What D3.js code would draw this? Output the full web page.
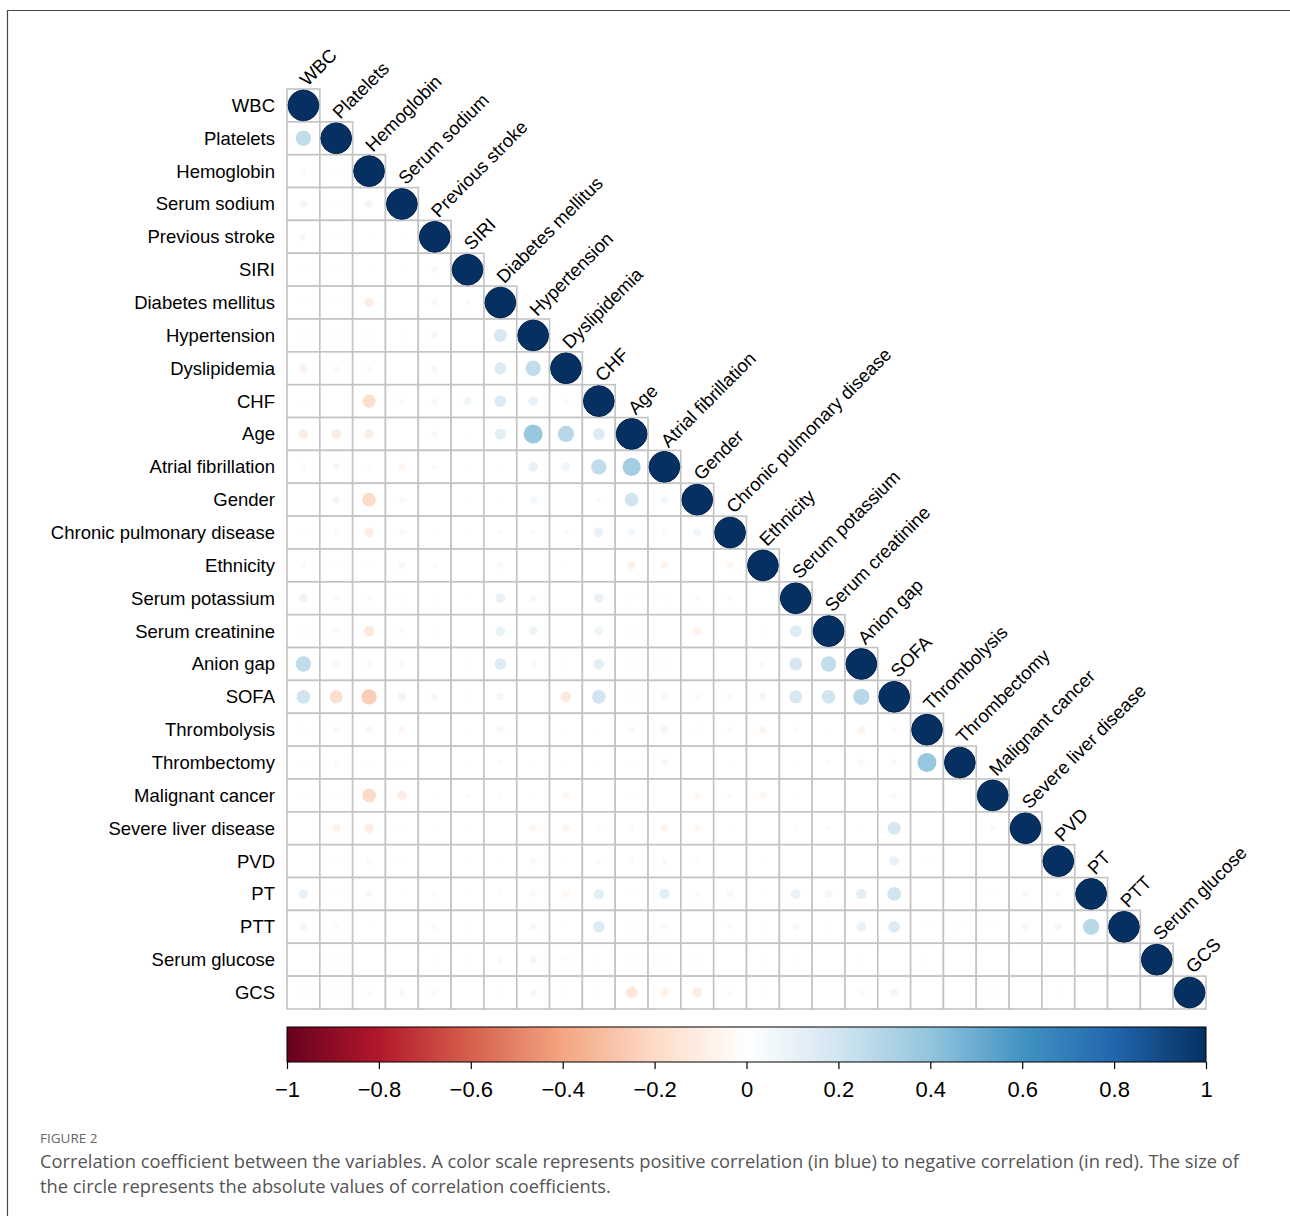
<!DOCTYPE html>
<html>
<head>
<meta charset="utf-8">
<script src="https://cdn.jsdelivr.net/npm/d3@7"></script>
<style>
  body { margin: 0; background: #fff; }
</style>
</head>
<body>
<script>
'use strict';

// variable order, top row to bottom row (and left to right)
const variables = ["WBC", "Platelets", "Hemoglobin", "Serum sodium", "Previous stroke", "SIRI",
  "Diabetes mellitus", "Hypertension", "Dyslipidemia", "CHF", "Age", "Atrial fibrillation",
  "Gender", "Chronic pulmonary disease", "Ethnicity", "Serum potassium", "Serum creatinine",
  "Anion gap", "SOFA", "Thrombolysis", "Thrombectomy", "Malignant cancer", "Severe liver disease",
  "PVD", "PT", "PTT", "Serum glucose", "GCS"];

// lower triangle, row i holds correlations with columns 0..i-1 (diagonal = 1)
const lowerTriangle = [
  [],
  [0.25],
  [0.03, -0.02],
  [0.06, -0.02, 0.06],
  [-0.05, 0.01, 0.01, -0.01],
  [0.01, -0.02, 0.01, 0.01, 0.05],
  [0.01, 0.01, -0.1, 0, 0.04, 0.03],
  [-0.02, -0.02, -0.02, 0.01, 0.05, 0, 0.18],
  [-0.08, -0.04, 0.03, 0, 0.05, 0, 0.15, 0.25],
  [0.01, 0, -0.18, -0.03, 0.04, 0.07, 0.15, 0.1, 0.03],
  [-0.1, -0.1, -0.1, 0, 0.04, 0.01, 0.13, 0.38, 0.28, 0.15],
  [-0.04, -0.05, -0.03, -0.05, 0.03, 0.01, 0.01, 0.1, 0.07, 0.25, 0.35],
  [0, 0.06, -0.2, 0.04, 0, -0.02, 0.02, 0.06, 0, 0.03, 0.2, 0.06],
  [0.02, 0.03, -0.1, -0.04, -0.02, -0.02, 0.03, 0.03, 0.03, 0.1, 0.06, 0.03, 0.07],
  [0.03, 0.01, -0.02, 0.05, 0.03, 0, 0.05, 0, -0.02, 0, -0.07, -0.06, 0, -0.05],
  [0.08, 0.03, -0.03, -0.02, 0.02, 0.01, 0.1, 0.05, 0, 0.1, 0.02, 0.02, -0.03, 0.03, 0],
  [0.02, -0.04, -0.12, -0.03, -0.02, 0, 0.1, 0.08, 0, 0.08, -0.03, 0, -0.07, 0, 0.02, 0.15],
  [0.25, 0.05, 0.04, 0.05, 0, 0.01, 0.15, 0.04, -0.02, 0.12, -0.03, 0.01, 0, 0, 0.04, 0.18, 0.25],
  [0.2, -0.18, -0.25, 0.07, -0.05, 0.02, 0.06, 0, -0.12, 0.2, -0.03, 0.05, -0.04, 0.04, 0.06, 0.18, 0.2, 0.28],
  [-0.02, 0.04, 0.05, -0.05, 0, -0.01, -0.05, 0, 0.01, 0.01, 0.04, 0.06, 0.02, -0.03, -0.06, -0.03, 0.01, -0.06, -0.03],
  [-0.02, 0.03, 0.02, -0.02, 0, -0.02, -0.03, 0.01, 0.01, 0.01, -0.01, 0.05, 0, 0.01, 0, 0.01, -0.03, -0.04, -0.04, 0.38],
  [0.02, 0.01, -0.2, -0.1, -0.02, -0.03, -0.02, -0.02, -0.05, 0, 0.01, 0, -0.05, 0.03, -0.05, 0.01, 0, 0, -0.04, 0, 0],
  [0, -0.07, -0.1, -0.02, 0.01, -0.02, 0, -0.05, -0.06, -0.03, -0.04, -0.06, -0.05, 0.01, 0, 0.02, 0.03, 0.01, 0.18, 0, 0, 0.04],
  [0, -0.02, -0.04, 0.02, 0, 0.02, -0.01, 0.04, 0.02, 0.03, 0.03, 0.04, -0.03, 0, -0.02, 0, 0, 0, 0.1, -0.01, 0, 0, 0],
  [0.1, -0.01, -0.05, 0.01, -0.03, 0.01, 0.02, -0.04, -0.05, 0.12, -0.01, 0.12, -0.03, 0.05, 0.01, 0.1, 0.06, 0.12, 0.2, 0, 0, -0.01, 0.05, 0.04],
  [0.06, 0.03, 0.01, 0, -0.04, 0.02, 0, -0.05, 0.01, 0.15, -0.02, 0.04, 0, 0.03, -0.02, 0.05, 0.02, 0.1, 0.15, -0.01, -0.01, 0.01, 0.05, 0.06, 0.28],
  [0, -0.02, 0, 0, 0.01, 0.01, 0.04, -0.06, -0.03, 0.01, -0.02, -0.03, 0.02, 0, -0.02, 0.01, 0, 0.01, 0, 0.01, 0, 0, 0, 0, 0, 0],
  [-0.02, 0.01, 0.03, -0.05, -0.04, 0, 0.01, -0.05, -0.02, 0.01, -0.14, -0.08, -0.1, 0.03, -0.02, 0, 0, -0.04, -0.06, 0, 0, -0.01, 0, 0.02, 0, 0, 0]
];

const legendTicks = [-1, -0.8, -0.6, -0.4, -0.2, 0, 0.2, 0.4, 0.6, 0.8, 1];
const palette = ["#67001F", "#B2182B", "#D6604D", "#F4A582", "#FDDBC7", "#FFFFFF",
  "#D1E5F0", "#92C5DE", "#4393C3", "#2166AC", "#053061"];

const figureLabel = "FIGURE 2";
const captionLines = [
  "Correlation coefficient between the variables. A color scale represents positive correlation (in blue) to negative correlation (in red). The size of",
  "the circle represents the absolute values of correlation coefficients."
];

const labelFont = "'Liberation Sans', Arial, Helvetica, sans-serif";

let svg = d3.select('body')
  .append('svg')
  .attr('width', 1290)
  .attr('height', 1216)
  .style('display', 'block');

// frame of the figure panel (top + left edges visible)
svg.append('path')
  .attr('d', 'M7.5,1216V10.5H1290')
  .attr('fill', 'none')
  .attr('stroke', '#444')
  .attr('stroke-width', 1.2);

let xScale = d3.scaleBand().domain(variables).range([287, 1206]);
let yScale = d3.scaleBand().domain(variables).range([89, 1009]);
let cell = xScale.bandwidth();

let colorScale = d3.scaleLinear()
  .domain(legendTicks)
  .range(palette);

let sizeScale = d3.scaleSqrt()
  .domain([0, 1])
  .range([0, cell * 0.468]);

let cells = [];
lowerTriangle.forEach((row, i) => {
  row.forEach((v, j) => cells.push({ row: variables[i], col: variables[j], value: v }));
  cells.push({ row: variables[i], col: variables[i], value: 1 });
});

let plot = svg.append('g');

plot.selectAll('.cell')
  .data(cells)
  .enter()
  .append('rect')
    .attr('class', 'cell')
    .attr('x', d => xScale(d.col))
    .attr('y', d => yScale(d.row))
    .attr('width', cell)
    .attr('height', cell)
    .attr('fill', '#fff')
    .attr('stroke', '#c3c3c3')
    .attr('stroke-width', 1.6);

plot.selectAll('.dot')
  .data(cells)
  .enter()
  .append('circle')
    .attr('class', 'dot')
    .attr('cx', d => xScale(d.col) + cell / 2)
    .attr('cy', d => yScale(d.row) + cell / 2)
    .attr('r', d => sizeScale(Math.abs(d.value)))
    .attr('fill', d => colorScale(d.value))
    .attr('stroke', d => d.value === 1 ? '#02254d' : 'none')
    .attr('stroke-width', 1);

// row labels
svg.append('g')
  .selectAll('text')
  .data(variables)
  .enter()
  .append('text')
    .attr('x', 275)
    .attr('y', d => yScale(d) + cell / 2)
    .attr('dy', '0.35em')
    .attr('text-anchor', 'end')
    .style('font-family', labelFont)
    .style('font-size', '18.5px')
    .attr('fill', '#000')
    .text(d => d);

// diagonal column labels
svg.append('g')
  .selectAll('text')
  .data(variables)
  .enter()
  .append('text')
    .attr('transform', d => 'translate(' + (xScale(d) + cell / 2 + 4) + ',' + (yScale(d) - 2) + ')rotate(-45)')
    .style('font-family', labelFont)
    .style('font-size', '18.5px')
    .attr('fill', '#000')
    .text(d => d);

// colour legend
let legendScale = d3.scaleLinear().domain([-1, 1]).range([287, 1206]);
let defs = svg.append('defs');
let grad = defs.append('linearGradient')
  .attr('id', 'corrGrad')
  .attr('x1', '0%').attr('x2', '100%')
  .attr('y1', '0%').attr('y2', '0%');
grad.selectAll('stop')
  .data(legendTicks)
  .enter()
  .append('stop')
    .attr('offset', d => ((d + 1) / 2 * 100) + '%')
    .attr('stop-color', d => colorScale(d));

svg.append('rect')
  .attr('x', legendScale(-1))
  .attr('y', 1027)
  .attr('width', legendScale(1) - legendScale(-1))
  .attr('height', 35)
  .attr('fill', 'url(#corrGrad)')
  .attr('stroke', '#000')
  .attr('stroke-width', 1);

let legendAxis = d3.axisBottom(legendScale)
  .tickValues(legendTicks)
  .tickSize(7)
  .tickPadding(12)
  .tickFormat(d3.format('~g'));

let axisG = svg.append('g')
  .attr('transform', 'translate(0,1062)')
  .call(legendAxis);
axisG.select('.domain').remove();
axisG.selectAll('.tick line').attr('stroke', '#000').attr('stroke-width', 1.2);
axisG.selectAll('.tick text')
  .style('font-family', labelFont)
  .style('font-size', '22px')
  .attr('fill', '#000');

// caption
svg.append('text')
  .attr('x', 40)
  .attr('y', 1143)
  .style('font-family', "'Open Sans', sans-serif")
  .style('font-size', '13.5px')
  .attr('fill', '#666')
  .text(figureLabel);

let captionText = svg.append('g')
  .selectAll('text')
  .data(captionLines)
  .enter()
  .append('text')
    .attr('x', 40)
    .attr('y', (d, i) => 1168 + i * 24.5)
    .style('font-family', "'Open Sans', sans-serif")
    .style('font-size', '16.8px')
    .attr('fill', '#555')
    .text(d => d);

// fit the first caption line to the width used in the figure
let firstWidth = captionText.node().getComputedTextLength();
let fitted = 16.8 * 1198 / firstWidth;
captionText.style('font-size', fitted + 'px');
</script>
</body>
</html>
